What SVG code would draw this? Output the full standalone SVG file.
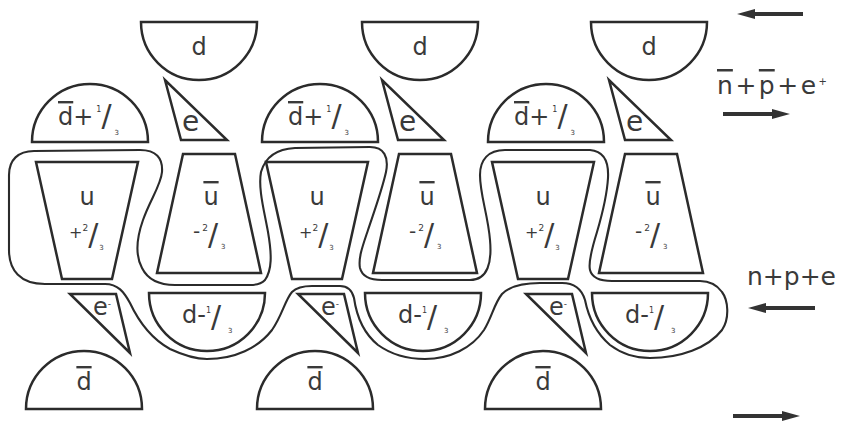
<svg xmlns="http://www.w3.org/2000/svg" width="841" height="424" viewBox="0 0 841 424">
<defs>
<style>
.s{fill:none;stroke:#2b2b2b;stroke-width:2.5;stroke-linejoin:miter}
.b{fill:none;stroke:#2b2b2b;stroke-width:2.1}
text{font-family:"DejaVu Sans","Liberation Sans",sans-serif;fill:#3a3a3a}
.lb{font-size:24px}
.c{text-anchor:middle}
.ov{text-decoration:overline}
.sup{font-size:8px}
.sub{font-size:7px}
.sl{font-size:30px}
.ar{stroke:#333;stroke-width:4}
</style>
<marker id="ah" markerUnits="userSpaceOnUse" markerWidth="18" markerHeight="10" refX="8" refY="5" orient="auto"><path d="M0,0 L18,5 L0,10 Z" fill="#333"/></marker>
</defs>
<rect width="841" height="424" fill="#fff"/>

<g id="boundary">
<path class="b" d="M45,284 L105,284 C118,284 124,292 130,303 C138,320 150,338 170,349 C185,356 196,359 207,359 C235,359 258,348 272,330 C282,316 285,300 292,292 C297,287 303,286 312,286 L340,286 C348,286 352,290 354,298 C356,312 362,332 378,345 C392,355 408,359 425,359 C450,359 472,348 484,330 C492,317 494,304 502,294 C510,286 522,283 540,283 L562,283 C575,283 582,290 585,300 C588,315 595,332 610,345 C622,354 635,358 650,358 C680,358 708,348 722,330 C730,318 728,300 722,292 C717,285 711,281 700,281 L612,281 C600,281 592,278 590,270 C588,262 592,248 597,232 C602,215 607,195 608,178 C609,160 603,151 590,150 L505,150 C488,150 480,160 480,175 C480,195 488,215 490,240 C492,262 488,280 470,280 L382,280 C370,280 362,276 360,268 C358,258 363,245 368,230 C374,212 382,190 386,172 C389,157 384,147 370,147 L295,148 C275,149 265,158 261,172 C258,188 264,210 268,232 C272,255 272,270 265,280 C261,284 257,285 250,285 L175,285 C160,285 148,280 142,268 C135,255 137,237 143,220 C150,200 161,185 162,172 C163,158 156,150 140,150 L34,151 C18,151 9,160 9,175 L9,250 C9,270 20,284 45,284 Z"/>
</g>

<g id="d-top-1"><path class="s" d="M141,22 H257 A58,58 0 0 1 141,22 Z"/><text class="lb c" x="199" y="55">d</text></g>
<g id="d-top-2"><path class="s" d="M362,22 H478 A58,58 0 0 1 362,22 Z"/><text class="lb c" x="420" y="55">d</text></g>
<g id="d-top-3"><path class="s" d="M591,22 H707 A58,58 0 0 1 591,22 Z"/><text class="lb c" x="649" y="55">d</text></g>

<g id="dbar-plus-1"><path class="s" d="M32,142 H148 A58,58 0 0 0 32,142 Z"/><text class="lb" x="58" y="125"><tspan class="ov">d</tspan>+<tspan class="sup" dx="3" dy="-13">1</tspan><tspan class="sl" dy="14">/</tspan><tspan class="sub" dx="3" dy="9">3</tspan></text></g>
<g id="dbar-plus-2"><path class="s" d="M262,142 H378 A58,58 0 0 0 262,142 Z"/><text class="lb" x="288" y="125"><tspan class="ov">d</tspan>+<tspan class="sup" dx="3" dy="-13">1</tspan><tspan class="sl" dy="14">/</tspan><tspan class="sub" dx="3" dy="9">3</tspan></text></g>
<g id="dbar-plus-3"><path class="s" d="M488,142 H604 A58,58 0 0 0 488,142 Z"/><text class="lb" x="514" y="125"><tspan class="ov">d</tspan>+<tspan class="sup" dx="3" dy="-13">1</tspan><tspan class="sl" dy="14">/</tspan><tspan class="sub" dx="3" dy="9">3</tspan></text></g>

<g id="e-top-1"><polygon class="s" points="165,80 181,140 227,140"/><text x="182" y="131" font-size="28">e</text></g>
<g id="e-top-2"><polygon class="s" points="382,80 398,140 444,140"/><text x="399" y="131" font-size="28">e</text></g>
<g id="e-top-3"><polygon class="s" points="609,80 625,140 671,140"/><text x="626" y="131" font-size="28">e</text></g>

<g id="u-1"><polygon class="s" points="36,162 138,162 112,279 62,279"/><text class="lb c" x="87" y="205">u</text><text x="69" y="238"><tspan font-size="16">+</tspan><tspan font-size="9" dy="-7">2</tspan><tspan class="sl" dy="14">/</tspan><tspan class="sub" dx="1" dy="5">3</tspan></text></g>
<g id="u-2"><polygon class="s" points="266,162 368,162 342,279 292,279"/><text class="lb c" x="317" y="205">u</text><text x="299" y="238"><tspan font-size="16">+</tspan><tspan font-size="9" dy="-7">2</tspan><tspan class="sl" dy="14">/</tspan><tspan class="sub" dx="1" dy="5">3</tspan></text></g>
<g id="u-3"><polygon class="s" points="492,162 594,162 568,279 518,279"/><text class="lb c" x="543" y="205">u</text><text x="525" y="238"><tspan font-size="16">+</tspan><tspan font-size="9" dy="-7">2</tspan><tspan class="sl" dy="14">/</tspan><tspan class="sub" dx="1" dy="5">3</tspan></text></g>

<g id="ubar-1"><polygon class="s" points="183,154 235,154 261,273 157,273"/><text class="lb c" x="211" y="205"><tspan class="ov">u</tspan></text><text x="193" y="238"><tspan font-size="20">-</tspan><tspan font-size="9" dx="2" dy="-7">2</tspan><tspan class="sl" dy="14">/</tspan><tspan class="sub" dx="3" dy="4">3</tspan></text></g>
<g id="ubar-2"><polygon class="s" points="399,154 451,154 477,273 373,273"/><text class="lb c" x="427" y="205"><tspan class="ov">u</tspan></text><text x="409" y="238"><tspan font-size="20">-</tspan><tspan font-size="9" dx="2" dy="-7">2</tspan><tspan class="sl" dy="14">/</tspan><tspan class="sub" dx="3" dy="4">3</tspan></text></g>
<g id="ubar-3"><polygon class="s" points="625,154 677,154 703,273 599,273"/><text class="lb c" x="653" y="205"><tspan class="ov">u</tspan></text><text x="635" y="238"><tspan font-size="20">-</tspan><tspan font-size="9" dx="2" dy="-7">2</tspan><tspan class="sl" dy="14">/</tspan><tspan class="sub" dx="3" dy="4">3</tspan></text></g>

<g id="e-bottom-1"><polygon class="s" points="70,294 116,294 130,353"/><text class="lb" x="93" y="315">e<tspan font-size="9" dy="-8">-</tspan></text></g>
<g id="e-bottom-2"><polygon class="s" points="298,294 344,294 358,353"/><text class="lb" x="321" y="315">e<tspan font-size="9" dy="-8">-</tspan></text></g>
<g id="e-bottom-3"><polygon class="s" points="526,294 572,294 586,353"/><text class="lb" x="549" y="315">e<tspan font-size="9" dy="-8">-</tspan></text></g>

<g id="d-minus-1"><path class="s" d="M149,293 H265 A58,58 0 0 1 149,293 Z"/><text class="lb" x="182" y="323">d-<tspan class="sup" dy="-10">1</tspan><tspan class="sl" dy="14">/</tspan><tspan class="sub" dx="7" dy="6">3</tspan></text></g>
<g id="d-minus-2"><path class="s" d="M365,293 H481 A58,58 0 0 1 365,293 Z"/><text class="lb" x="398" y="323">d-<tspan class="sup" dy="-10">1</tspan><tspan class="sl" dy="14">/</tspan><tspan class="sub" dx="7" dy="6">3</tspan></text></g>
<g id="d-minus-3"><path class="s" d="M592,293 H708 A58,58 0 0 1 592,293 Z"/><text class="lb" x="625" y="323">d-<tspan class="sup" dy="-10">1</tspan><tspan class="sl" dy="14">/</tspan><tspan class="sub" dx="7" dy="6">3</tspan></text></g>

<g id="dbar-bottom-1"><path class="s" d="M26,409 H142 A58,58 0 0 0 26,409 Z"/><text class="lb c" x="84" y="390"><tspan class="ov">d</tspan></text></g>
<g id="dbar-bottom-2"><path class="s" d="M257,409 H373 A58,58 0 0 0 257,409 Z"/><text class="lb c" x="315" y="390"><tspan class="ov">d</tspan></text></g>
<g id="dbar-bottom-3"><path class="s" d="M485,409 H601 A58,58 0 0 0 485,409 Z"/><text class="lb c" x="543" y="390"><tspan class="ov">d</tspan></text></g>

<g id="label-anti"><text x="717" y="94" font-size="25" textLength="110" lengthAdjust="spacing"><tspan class="ov">n</tspan>+<tspan class="ov">p</tspan>+e<tspan font-size="10" dy="-9">+</tspan></text></g>
<g id="label-matter"><text x="747" y="285" font-size="25">n+p+e</text></g>

<g id="connectors">
<line class="ar" x1="803" y1="14" x2="747" y2="14" marker-end="url(#ah)"/>
<line class="ar" x1="723" y1="114" x2="780" y2="114" marker-end="url(#ah)"/>
<line class="ar" x1="815" y1="308" x2="758" y2="308" marker-end="url(#ah)"/>
<line class="ar" x1="733" y1="416" x2="790" y2="416" marker-end="url(#ah)"/>
</g>
</svg>
